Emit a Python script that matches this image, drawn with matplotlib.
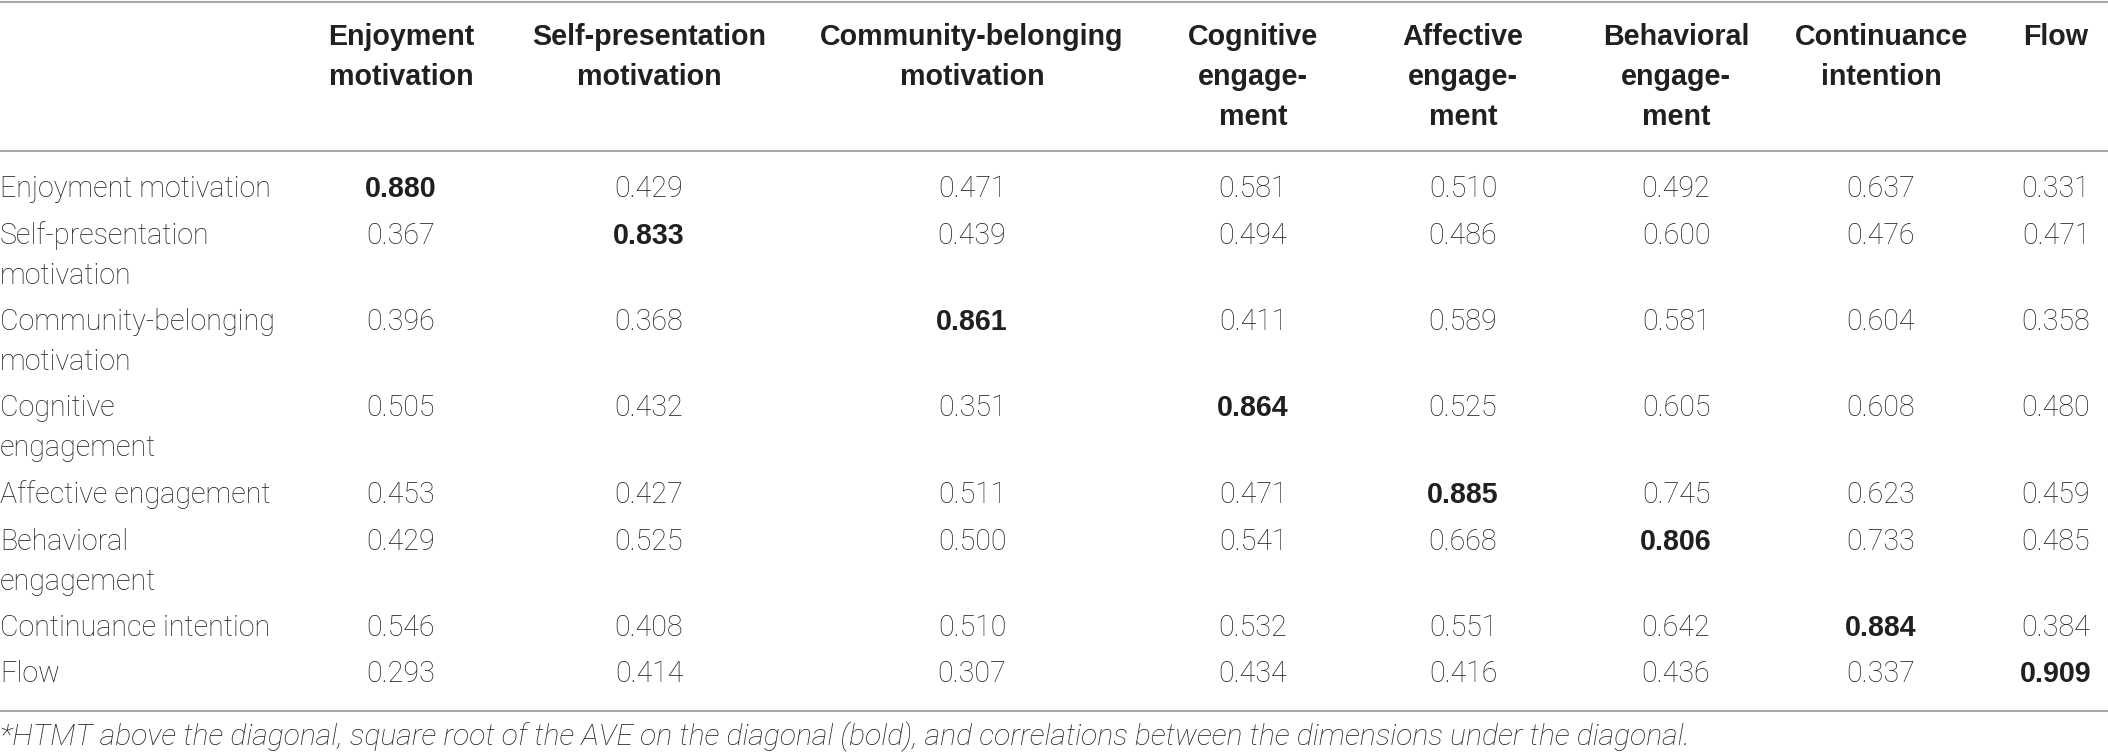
import matplotlib.pyplot as plt

plt.rcParams['font.family'] = ['Liberation Sans', 'DejaVu Sans']

# table content
col_labels = ["Enjoyment\nmotivation", "Self-presentation\nmotivation",
              "Community-belonging\nmotivation", "Cognitive\nengage-\nment",
              "Affective\nengage-\nment", "Behavioral\nengage-\nment",
              "Continuance\nintention", "Flow"]
row_labels = ["Enjoyment motivation", "Self-presentation\nmotivation",
              "Community-belonging\nmotivation", "Cognitive\nengagement",
              "Affective engagement", "Behavioral\nengagement",
              "Continuance intention", "Flow"]
enjoyment = [0.880, 0.429, 0.471, 0.581, 0.510, 0.492, 0.637, 0.331]
self_presentation = [0.367, 0.833, 0.439, 0.494, 0.486, 0.600, 0.476, 0.471]
community = [0.396, 0.368, 0.861, 0.411, 0.589, 0.581, 0.604, 0.358]
cognitive = [0.505, 0.432, 0.351, 0.864, 0.525, 0.605, 0.608, 0.480]
affective = [0.453, 0.427, 0.511, 0.471, 0.885, 0.745, 0.623, 0.459]
behavioral = [0.429, 0.525, 0.500, 0.541, 0.668, 0.806, 0.733, 0.485]
continuance = [0.546, 0.408, 0.510, 0.532, 0.551, 0.642, 0.884, 0.384]
flow = [0.293, 0.414, 0.307, 0.434, 0.416, 0.436, 0.337, 0.909]
values = [enjoyment, self_presentation, community, cognitive,
          affective, behavioral, continuance, flow]
footnote = ("*HTMT above the diagonal, square root of the AVE on the diagonal (bold), "
            "and correlations between the dimensions under the diagonal.")

# layout (pixels)
W, H = 2108, 754
col_x = [401, 649, 972, 1253, 1463, 1676, 1881, 2056]
line_h = 40
row_pad = 6.5
fs = 20.6
txt_color = '#231f20'
rule_color = '#a8a8a8'
light = dict(family=['Roboto', 'Liberation Sans'], fontweight='light')

fig = plt.figure(figsize=(W / 100, H / 100), dpi=100)
ax = fig.add_axes([0, 0, 1, 1])
ax.set_xlim(0, W)
ax.set_ylim(H, 0)
ax.axis('off')

# rules
for y in (1.5, 151, 711):
    ax.plot([0, W], [y, y], color=rule_color, lw=1.5, solid_capstyle='butt')

# header
for x, lab in zip(col_x, col_labels):
    for k, part in enumerate(lab.split('\n')):
        ax.text(x, 45 + k * line_h, part, ha='center', va='baseline',
                fontsize=fs, fontweight='bold', color=txt_color)

# body
y = 197
for i, lab in enumerate(row_labels):
    parts = lab.split('\n')
    for k, part in enumerate(parts):
        ax.text(0, y + k * line_h, part, ha='left', va='baseline',
                fontsize=fs, color=txt_color, **light)
    for j, v in enumerate(values[i]):
        if i == j:
            ax.text(col_x[j], y, f"{v:.3f}", ha='center', va='baseline',
                    fontsize=fs, color=txt_color, fontweight='bold')
        else:
            ax.text(col_x[j], y, f"{v:.3f}", ha='center', va='baseline',
                    fontsize=fs, color=txt_color, **light)
    y += len(parts) * line_h + row_pad

ax.text(0, 745, footnote, ha='left', va='baseline', fontsize=21.7,
        style='italic', color=txt_color, **light)

fig.savefig('out.png', dpi=100)
